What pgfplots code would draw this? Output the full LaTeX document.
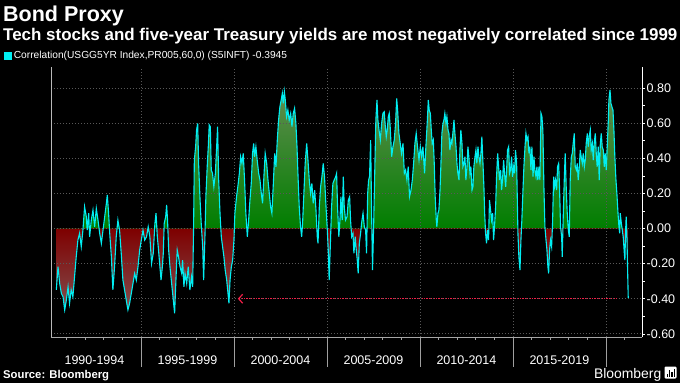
\documentclass[border=0pt]{standalone}
\usepackage{pgfplots}
\pgfplotsset{compat=1.18}
\usepackage{pgfplotstable}
\usetikzlibrary{arrows.meta}
\usepackage{fontspec}
\setmainfont{Liberation Sans}
\definecolor{bcyan}{RGB}{0,238,242}
\definecolor{gtop}{RGB}{98,140,80}
\definecolor{gbot}{RGB}{0,126,0}
\definecolor{rtop}{RGB}{126,0,0}
\definecolor{rbot}{RGB}{132,80,80}
\definecolor{gridc}{RGB}{88,88,88}
\definecolor{arrowred}{RGB}{240,30,70}
% path bbox runs from -0.483 to 0.789; zero sits at 25+50*0.38 = 44bp
\pgfdeclareverticalshading{gshade}{100bp}{color(0bp)=(gbot); color(44bp)=(gbot); color(75bp)=(gtop); color(100bp)=(gtop)}
\pgfdeclareverticalshading{rshade}{100bp}{color(0bp)=(rbot); color(25bp)=(rbot); color(44bp)=(rtop); color(100bp)=(rtop)}

\pgfplotstableread{
year v
1990.45 -0.350
1990.54 -0.218
1990.63 -0.313
1990.72 -0.370
1990.81 -0.389
1990.90 -0.464
1990.99 -0.408
1991.08 -0.332
1991.16 -0.426
1991.25 -0.350
1991.34 -0.389
1991.43 -0.275
1991.52 -0.161
1991.61 -0.066
1991.70 -0.027
1991.79 -0.104
1991.88 -0.009
1991.97 0.124
1992.06 0.067
1992.11 -0.009
1992.19 0.087
1992.24 -0.047
1992.33 0.048
1992.42 0.105
1992.51 0.010
1992.60 0.114
1992.69 0.048
1992.78 -0.027
1992.87 -0.085
1992.96 -0.009
1993.05 0.067
1993.14 0.143
1993.19 0.191
1993.26 0.087
1993.32 -0.027
1993.41 -0.161
1993.49 -0.350
1993.58 -0.218
1993.67 -0.047
1993.76 0.048
1993.85 -0.009
1993.94 -0.142
1994.03 -0.294
1994.12 -0.350
1994.21 -0.408
1994.30 -0.464
1994.39 -0.426
1994.48 -0.370
1994.57 -0.313
1994.66 -0.256
1994.75 -0.294
1994.84 -0.218
1994.93 -0.123
1995.02 -0.066
1995.11 -0.009
1995.20 -0.066
1995.30 -0.047
1995.39 0.010
1995.48 -0.047
1995.57 -0.199
1995.66 -0.142
1995.75 0.029
1995.81 0.087
1995.88 -0.047
1995.93 -0.104
1996.02 -0.218
1996.08 -0.294
1996.15 -0.218
1996.20 -0.142
1996.25 0.029
1996.33 0.067
1996.38 0.134
1996.43 0.048
1996.49 -0.123
1996.56 -0.218
1996.65 -0.313
1996.74 -0.408
1996.81 -0.483
1996.88 -0.294
1996.95 -0.123
1997.02 -0.161
1997.10 -0.218
1997.19 -0.256
1997.24 -0.180
1997.31 -0.332
1997.37 -0.256
1997.46 -0.313
1997.54 -0.218
1997.63 -0.350
1997.72 -0.275
1997.78 -0.332
1997.83 0.010
1997.87 0.390
1997.94 0.466
1997.99 0.561
1998.05 0.599
1998.10 0.371
1998.17 0.181
1998.24 0.029
1998.32 -0.104
1998.37 -0.294
1998.44 -0.047
1998.49 0.181
1998.57 0.371
1998.62 0.466
1998.67 0.590
1998.73 0.580
1998.78 0.333
1998.85 0.314
1998.92 0.238
1999.00 0.314
1999.07 0.466
1999.12 0.580
1999.18 0.276
1999.25 0.087
1999.32 -0.047
1999.39 -0.104
1999.46 -0.161
1999.53 -0.237
1999.61 -0.294
1999.68 -0.370
1999.73 -0.426
1999.79 -0.294
1999.86 -0.218
1999.93 -0.180
2000.00 -0.066
2000.05 0.087
2000.14 0.181
2000.23 0.257
2000.29 0.314
2000.36 0.409
2000.43 0.371
2000.50 0.428
2000.57 0.276
2000.64 0.087
2000.72 -0.047
2000.79 0.048
2000.86 0.162
2000.93 0.257
2001.00 0.428
2001.06 0.485
2001.11 0.409
2001.18 0.466
2001.25 0.390
2001.33 0.314
2001.40 0.276
2001.47 0.200
2001.54 0.143
2001.61 0.295
2001.68 0.428
2001.76 0.371
2001.83 0.276
2001.90 0.200
2001.97 0.124
2002.04 0.087
2002.11 0.238
2002.19 0.428
2002.26 0.352
2002.33 0.504
2002.40 0.618
2002.47 0.694
2002.54 0.732
2002.60 0.770
2002.65 0.713
2002.71 0.780
2002.76 0.732
2002.83 0.637
2002.90 0.675
2002.97 0.618
2003.05 0.656
2003.12 0.580
2003.19 0.656
2003.26 0.685
2003.33 0.599
2003.39 0.466
2003.44 0.314
2003.51 0.124
2003.58 0.010
2003.64 -0.047
2003.69 0.029
2003.76 0.200
2003.83 0.371
2003.91 0.485
2003.98 0.390
2004.05 0.276
2004.12 0.200
2004.19 0.257
2004.26 0.143
2004.34 0.219
2004.41 0.105
2004.48 -0.047
2004.52 -0.085
2004.59 0.124
2004.66 0.238
2004.73 0.295
2004.80 0.371
2004.87 0.295
2004.95 0.124
2005.02 -0.009
2005.07 -0.123
2005.12 -0.294
2005.18 -0.104
2005.25 0.124
2005.32 0.257
2005.39 0.276
2005.47 0.295
2005.52 0.314
2005.57 0.124
2005.64 -0.047
2005.70 0.048
2005.75 0.181
2005.82 0.048
2005.88 0.295
2005.93 0.124
2006.00 0.048
2006.08 0.067
2006.15 0.162
2006.22 0.181
2006.27 0.048
2006.33 -0.047
2006.40 -0.027
2006.45 -0.142
2006.52 -0.047
2006.56 -0.104
2006.63 -0.180
2006.68 -0.256
2006.74 -0.085
2006.81 -0.027
2006.86 0.029
2006.94 0.087
2007.01 0.010
2007.08 -0.009
2007.13 -0.142
2007.19 0.200
2007.24 0.276
2007.29 0.295
2007.35 0.504
2007.40 0.105
2007.45 -0.237
2007.51 0.010
2007.58 0.371
2007.63 0.618
2007.69 0.732
2007.74 0.618
2007.80 0.561
2007.87 0.504
2007.94 0.599
2008.01 0.656
2008.08 0.665
2008.14 0.580
2008.19 0.523
2008.24 0.561
2008.30 0.637
2008.35 0.656
2008.40 0.580
2008.48 0.409
2008.55 0.466
2008.62 0.504
2008.69 0.599
2008.75 0.741
2008.80 0.675
2008.87 0.542
2008.94 0.485
2009.01 0.428
2009.09 0.485
2009.16 0.314
2009.23 0.333
2009.30 0.276
2009.37 0.352
2009.44 0.181
2009.52 0.219
2009.59 0.276
2009.66 0.371
2009.73 0.485
2009.80 0.542
2009.87 0.466
2009.95 0.390
2010.02 0.466
2010.09 0.409
2010.16 0.466
2010.25 0.314
2010.32 0.466
2010.39 0.599
2010.45 0.732
2010.50 0.675
2010.56 0.656
2010.61 0.561
2010.66 0.485
2010.72 0.504
2010.77 0.371
2010.82 0.181
2010.88 0.048
2010.91 0.010
2010.97 0.087
2011.02 0.105
2011.08 0.219
2011.13 0.371
2011.18 0.542
2011.24 0.599
2011.29 0.618
2011.34 0.656
2011.40 0.599
2011.45 0.637
2011.51 0.561
2011.56 0.542
2011.61 0.447
2011.67 0.504
2011.72 0.485
2011.77 0.542
2011.83 0.618
2011.88 0.542
2011.94 0.466
2011.99 0.371
2012.04 0.314
2012.10 0.276
2012.15 0.447
2012.20 0.561
2012.26 0.485
2012.31 0.352
2012.37 0.371
2012.42 0.409
2012.47 0.276
2012.53 0.352
2012.58 0.466
2012.63 0.409
2012.69 0.314
2012.74 0.352
2012.80 0.219
2012.85 0.238
2012.90 0.352
2012.96 0.409
2013.01 0.447
2013.06 0.371
2013.12 0.466
2013.17 0.409
2013.23 0.371
2013.28 0.428
2013.33 0.523
2013.39 0.371
2013.44 0.238
2013.48 0.087
2013.53 -0.027
2013.58 -0.085
2013.64 -0.009
2013.69 -0.066
2013.74 0.162
2013.80 0.105
2013.85 0.048
2013.91 0.087
2013.96 -0.066
2014.01 0.010
2014.07 0.124
2014.12 0.295
2014.18 0.428
2014.23 0.352
2014.28 0.276
2014.34 0.333
2014.39 0.219
2014.44 0.276
2014.50 0.390
2014.55 0.314
2014.61 0.238
2014.66 0.333
2014.71 0.447
2014.77 0.466
2014.82 0.314
2014.87 0.333
2014.93 0.409
2014.98 0.295
2015.04 0.352
2015.09 0.314
2015.14 0.447
2015.20 0.371
2015.27 -0.027
2015.32 -0.161
2015.38 -0.237
2015.43 -0.066
2015.48 0.048
2015.54 0.219
2015.59 0.352
2015.65 0.466
2015.70 0.542
2015.75 0.504
2015.81 0.523
2015.86 0.428
2015.91 0.466
2015.97 0.333
2016.02 0.466
2016.08 0.295
2016.13 0.409
2016.18 0.333
2016.24 0.295
2016.29 0.352
2016.34 0.276
2016.40 0.352
2016.45 0.276
2016.51 0.656
2016.56 0.637
2016.61 0.561
2016.67 0.219
2016.72 0.010
2016.78 -0.066
2016.83 -0.123
2016.88 -0.218
2016.92 -0.256
2016.97 -0.123
2017.02 -0.066
2017.08 -0.104
2017.13 0.029
2017.19 0.295
2017.24 0.238
2017.29 0.276
2017.35 0.219
2017.40 0.352
2017.46 0.371
2017.51 0.219
2017.56 0.010
2017.62 -0.047
2017.65 -0.161
2017.71 0.087
2017.76 0.276
2017.81 0.428
2017.87 0.219
2017.92 0.087
2017.98 -0.009
2018.03 -0.047
2018.08 0.276
2018.14 0.409
2018.19 0.428
2018.24 0.485
2018.30 0.542
2018.35 0.352
2018.41 0.333
2018.46 0.371
2018.51 0.276
2018.57 0.352
2018.62 0.447
2018.67 0.409
2018.73 0.371
2018.78 0.428
2018.84 0.352
2018.89 0.390
2018.94 0.485
2019.00 0.542
2019.05 0.466
2019.10 0.523
2019.16 0.561
2019.21 0.447
2019.27 0.485
2019.32 0.390
2019.37 0.485
2019.43 0.542
2019.48 0.428
2019.53 0.352
2019.59 0.466
2019.64 0.276
2019.70 0.485
2019.75 0.542
2019.80 0.466
2019.86 0.447
2019.91 0.352
2019.96 0.428
2020.02 0.333
2020.07 0.466
2020.13 0.618
2020.16 0.732
2020.22 0.789
2020.27 0.713
2020.32 0.694
2020.38 0.675
2020.43 0.561
2020.48 0.409
2020.54 0.276
2020.59 0.200
2020.65 0.087
2020.70 0.010
2020.74 -0.027
2020.77 0.087
2020.83 0.029
2020.88 -0.009
2020.93 -0.047
2020.99 -0.142
2021.02 -0.180
2021.06 -0.009
2021.09 0.067
2021.13 -0.047
2021.17 -0.256
2021.20 -0.3945
}\corr

\begin{document}
\begin{tikzpicture}[x=1pt,y=1pt]
\fill[black] (0,0) rectangle (680,383);
\node[anchor=base west, inner sep=0pt, text=white, font=\bfseries\fontsize{21.5}{24}\selectfont] at (3,361) {Bond Proxy};
\node[anchor=base west, inner sep=0pt, text=white, font=\bfseries\fontsize{16.95}{19}\selectfont] at (3,342) {Tech stocks and five-year Treasury yields are most negatively correlated since 1999};
\begin{axis}[
  at={(51.5pt,46pt)}, anchor=south west,
  width=590.5pt, height=270pt, scale only axis,
  xmin=1990.19, xmax=2021.94, ymin=-0.618, ymax=0.920,
  clip=false,
  axis line style={draw=none},
  xtick={1992.5,1997.5,2002.5,2007.5,2012.5,2017.5},
  xticklabels={1990-1994,1995-1999,2000-2004,2005-2009,2010-2014,2015-2019},
  xtick pos=left,
  xtick style={draw=none},
  xticklabel style={text=white, font=\fontsize{12.5}{14}\selectfont, anchor=base, yshift=-24pt},
  ytick={-0.6,-0.4,-0.2,0,0.2,0.4,0.6,0.8},
  minor y tick num=1,
  ytick pos=right, yticklabel pos=right,
  tick align=outside,
  major tick length=3pt, minor tick length=3pt,
  ytick style={white, line width=0.6pt},
  yticklabel style={text=white, font=\fontsize{12.5}{14}\selectfont, inner sep=1.5pt},
  /pgf/number format/fixed, /pgf/number format/fixed zerofill,
  /pgf/number format/precision=2, /pgf/number format/assume math mode=true,
  legend style={at={(-0.0804,1.0407)}, anchor=west, draw=none, fill=none,
    text=white, font=\fontsize{10.2}{12}\selectfont, inner sep=0pt},
  legend cell align=left,
]
% shaded areas: positive part in green, negative part in red
\begin{scope}
\clip (axis cs:1990,0) rectangle (axis cs:2022,1);
\addplot[forget plot, draw=none, shade, shading=gshade]
  table[x=year, y=v]{\corr} -- (axis cs:2021.20,0) -- (axis cs:1990.45,0) -- cycle;
\end{scope}
\begin{scope}
\clip (axis cs:1990,-1) rectangle (axis cs:2022,0);
\addplot[forget plot, draw=none, shade, shading=rshade]
  table[x=year, y=v]{\corr} -- (axis cs:2021.20,0) -- (axis cs:1990.45,0) -- cycle;
\end{scope}
% grid (dotted)
\pgfplotsinvokeforeach{-0.6,-0.4,-0.2,0,0.2,0.4,0.6,0.8}{
  \draw[gridc, line width=0.7pt, dash pattern=on 1pt off 2pt] (axis cs:1990.19,#1) -- (axis cs:2021.94,#1);
}
\pgfplotsinvokeforeach{1995,2000,2005,2010,2015,2020}{
  \draw[gridc, line width=0.7pt, dash pattern=on 1pt off 2pt] (axis cs:#1,-0.618) -- (axis cs:#1,0.920);
  \draw[gray!75, line width=0.8pt] (axis cs:#1,-0.618) -- ++(0pt,-30pt);
}
\pgfplotsinvokeforeach{1991,...,2021}{
  \draw[gray!75, line width=0.6pt] (axis cs:#1,-0.618) -- ++(0pt,-2.5pt);
}
% axis lines
\draw[gray!70, line width=0.8pt] (rel axis cs:0,0) -- (rel axis cs:1,0);
\draw[gray!55, line width=0.8pt] (rel axis cs:0,0) -- (rel axis cs:0,1);
\draw[white, line width=0.8pt] (rel axis cs:1,0) -- (rel axis cs:1,1);
% data line
\addplot[bcyan, line width=1.1pt,
  legend image code/.code={\fill[bcyan] (0pt,-3.2pt) rectangle (6.5pt,3.2pt);}]
  table[x=year, y=v]{\corr};
\addlegendentry{Correlation(USGG5YR Index,PR005,60,0) (S5INFT) -0.3945}
% arrow
\addplot[forget plot, arrowred, line width=1.2pt, dash pattern=on 1.2pt off 1.2pt,
  arrows={Straight Barb[length=4pt,width=9pt]-}] coordinates {(2000.21,-0.40) (2020.59,-0.40)};
\end{axis}
\node[anchor=base west, inner sep=0pt, text=white, font=\bfseries\fontsize{11.3}{13}\selectfont] at (3,5) {Source: Bloomberg};
\node[anchor=base east, inner sep=0pt, text=white, font=\fontsize{13.9}{16}\selectfont] at (661.5,5) {Bloomberg};
\fill[white, rounded corners=1.2pt] (664.5,4.5) rectangle (676.5,16.5);
\fill[black] (666.6,6.5) rectangle (667.9,9.5);
\fill[black] (668.9,6.5) rectangle (670.2,13);
\fill[black] (671.2,6.5) rectangle (672.5,11);
\fill[black] (673.5,6.5) rectangle (674.6,14);
\pgfresetboundingbox
\path[use as bounding box] (0,0) rectangle (680,383);
\end{tikzpicture}
\end{document}
